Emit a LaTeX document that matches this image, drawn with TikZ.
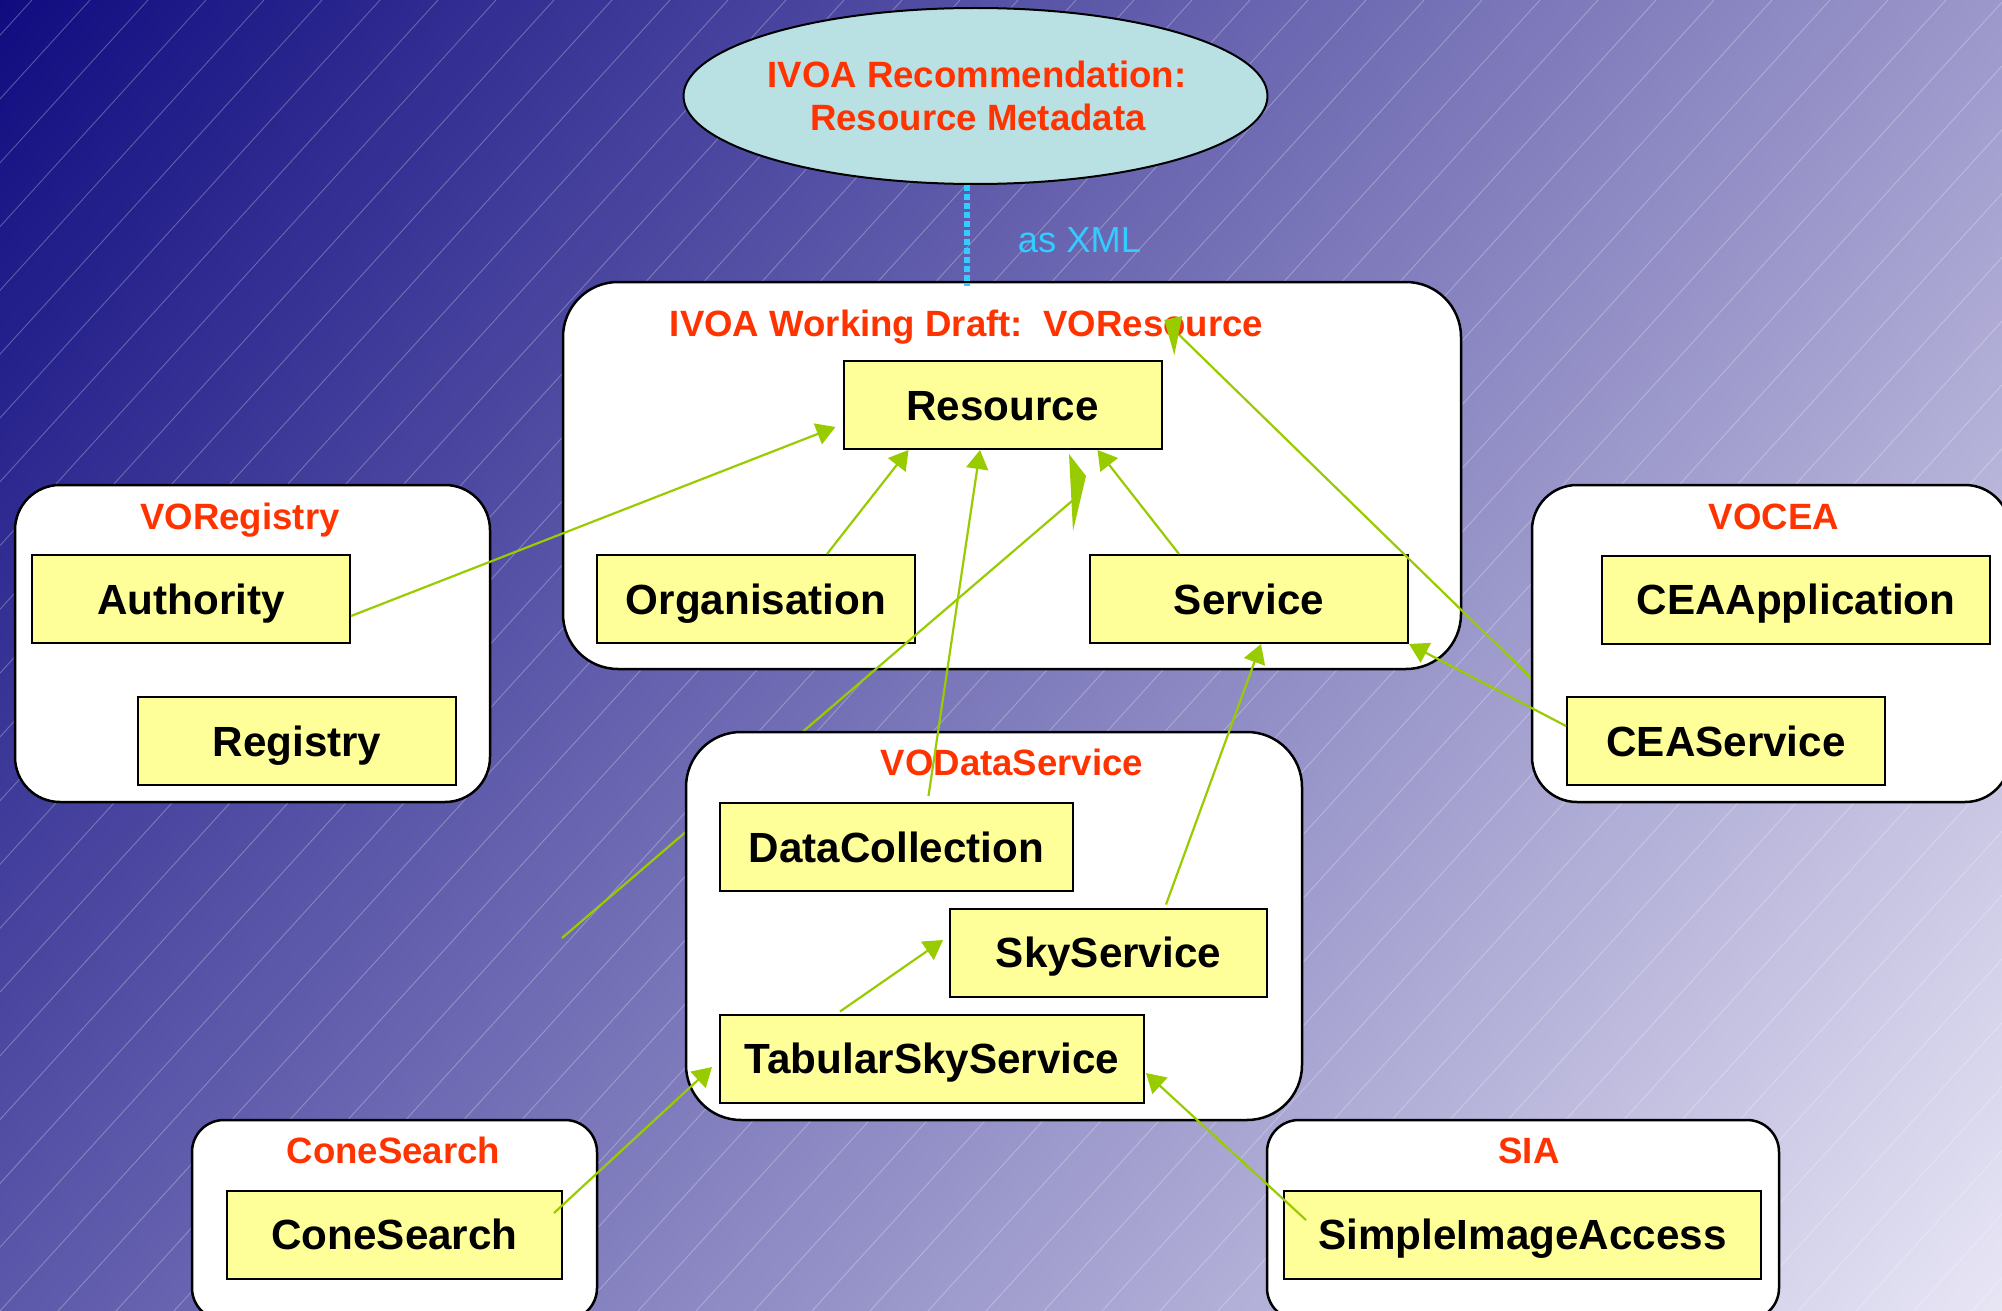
\documentclass[tikz,border=0pt]{standalone}
\usepackage{fontspec}
\setmainfont{Liberation Sans}
\usetikzlibrary{arrows.meta,calc,shapes.geometric,shadings}
\definecolor{bgUL}{RGB}{16,12,128}
\definecolor{bgUR}{RGB}{156,152,203}
\definecolor{bgLL}{RGB}{92,88,170}
\definecolor{bgLR}{RGB}{232,230,245}
\definecolor{titlered}{RGB}{255,51,0}
\definecolor{boxyellow}{RGB}{255,255,153}
\definecolor{ellfill}{RGB}{185,225,228}
\definecolor{xmlblue}{RGB}{51,204,255}
\definecolor{arrgreen}{RGB}{153,204,0}
\pgfdeclarelayer{bgl}
\pgfdeclarelayer{low}
\pgfdeclarelayer{mid}
\pgfsetlayers{bgl,low,mid,main}
\begin{document}
\begin{tikzpicture}[x=1pt,y=-1pt,
  container/.style={draw=black, fill=white, line width=2.5pt, rounded corners=#1, inner sep=0pt},
  container/.default=55pt,
  ybox/.style={draw=black, fill=boxyellow, line width=2pt, minimum width=318pt, minimum height=88pt,
    inner sep=0pt, font=\fontsize{42.2}{50}\selectfont\bfseries, text height=30.2pt, text depth=0pt},
  ttl/.style={anchor=base, inner sep=0pt, text=titlered, font=\fontsize{36.6}{44}\selectfont\bfseries},
  conn/.style={draw=arrgreen, line width=2.2pt, -{Triangle[length=19pt,width=22pt]}},
  plainconn/.style={draw=arrgreen, line width=2.2pt},
  bgline/.style={draw=white, opacity=0.28, line width=0.9pt},
  dotline/.style={draw=xmlblue, line width=6pt, dash pattern=on 5.5pt off 3.5pt}
]
\useasboundingbox (0,0) rectangle (2002,1311);

% ---------- background ----------
\begin{pgfonlayer}{bgl}
\shade[upper left=bgUL, upper right=bgUR, lower left=bgLL, lower right=bgLR] (0,0) rectangle (2002,1311);
\begin{scope}
\clip (0,0) rectangle (2002,1311);
\foreach \i in {-21,...,35} \draw[bgline] ({\i*58},1311) -- ++(1192,-1311);
\end{scope}
\end{pgfonlayer}

% ---------- VOResource (lower layer) ----------
\begin{pgfonlayer}{low}
\node[container=55pt, minimum width=898pt, minimum height=387pt] (voresC) at (1012,475.5) {};
\node[ttl] (voresT) at (966.5,336) {IVOA Working Draft:\ \ VOResource};
\node[ybox] (res) at (1002.5,405) {Resource};
\node[ybox] (org) at (756,599) {Organisation};
\node[ybox] (svc) at (1249,599) {Service};
\end{pgfonlayer}

% ---------- ellipse ----------
\node[ellipse, draw=black, fill=ellfill, line width=2pt, minimum width=584pt, minimum height=176pt, inner sep=0pt] (rm) at (975.5,96) {};
\node[ttl] (rm1) at (977,88) {IVOA Recommendation:};
\node[ttl] (rm2) at (978,131) {Resource Metadata};
\draw[dotline] ($(rm.south)+(-8.5,0)$) -- ($(voresC.north)+(-45,5)$);
\node[anchor=base, inner sep=0pt, text=xmlblue, font=\fontsize{36.3}{44}\selectfont] (asxml) at (1079.5,252) {as XML};

% ---------- VORegistry ----------
\node[container=45pt, minimum width=475pt, minimum height=317pt] (voregC) at (252.5,643.5) {};
\node[ttl] (voregT) at (240,529) {VORegistry};
\node[ybox] (auth) at (191,599) {Authority};
\node[ybox] (reg) at (297,741) {Registry};

% ---------- VOCEA ----------
\node[container=45pt, minimum width=478pt, minimum height=317pt] (voceaC) at (1771,643.5) {};
\node[ttl] (voceaT) at (1774,529) {VOCEA};
\node[ybox, minimum width=388pt] (ceaapp) at (1796,599.5) {CEAApplication};
\node[ybox] (ceasvc) at (1726,741) {CEAService};

% ---------- VODataService ----------
\node[container=55pt, minimum width=616pt, minimum height=388pt] (vodsC) at (994,926) {};
\node[ttl] (vodsT) at (1012,775) {VODataService};
\node[ybox, minimum width=353pt] (dc) at (896.5,847) {DataCollection};
\node[ybox, minimum width=317pt] (sky) at (1108.5,952.5) {SkyService};
\node[ybox, minimum width=424pt] (tss) at (932,1058.5) {TabularSkyService};

% ---------- ConeSearch ----------
\node[container=32pt, minimum width=405pt, minimum height=200pt] (coneC) at (394.5,1220) {};
\node[ttl] (coneT) at (393.5,1163) {ConeSearch};
\node[ybox, minimum width=335pt] (cone) at (394.5,1234.5) {ConeSearch};

% ---------- SIA ----------
\node[container=32pt, minimum width=512pt, minimum height=200pt] (siaC) at (1523,1220) {};
\node[ttl] (siaT) at (1529,1163) {SIA};
\node[ybox, minimum width=477pt] (sia) at (1522.5,1234.5) {SimpleImageAccess};

% ---------- connectors behind some containers ----------
\begin{pgfonlayer}{mid}
\coordinate (free) at (562,938);
\draw[plainconn] (free) -- ($(res.south)+(69.5,51)$);
\fill[arrgreen] ($(res.south)+(66.5,4)$) -- ($(res.south)+(83.5,26)$) -- ($(res.south)+(70.5,81)$) -- cycle;
\draw[plainconn] ($(ceasvc.west)+(0,-29)$) -- ($(voresT.base east)+(-84,-1)$);
\fill[arrgreen] ($(voresT.base east)+(-99,-16)$) -- ($(voresT.base east)+(-81,-20)$) -- ($(voresT.base east)+(-89,19)$) -- cycle;
\end{pgfonlayer}

% ---------- connectors on top ----------
\draw[conn] ($(auth.east)+(0,17)$) -- ($(res.south west)+(-7,-23)$);
\draw[conn] ($(org.north)+(71,0)$) -- ($(res.south)+(-94,0)$);
\draw[conn] ($(dc.north)+(32,-6)$) -- ($(res.south)+(-22.5,0)$);
\draw[conn] ($(svc.north)+(-70,0)$) -- ($(res.south)+(95,0)$);
\draw[conn] ($(ceasvc.west)+(0,-15)$) -- (svc.south east);
\draw[conn] ($(sky.north)+(57.5,-3)$) -- ($(svc.south)+(12,0)$);
\draw[conn] ($(tss.north)+(-92,-2)$) -- ($(sky.west)+(-6,-12.5)$);
\draw[conn] ($(cone.east)+(-9,-21.5)$) -- ($(tss.west)+(-7,8.5)$);
\draw[conn] ($(sia.west)+(23,-14.5)$) -- ($(tss.east)+(1,14.5)$);
\end{tikzpicture}
\end{document}
